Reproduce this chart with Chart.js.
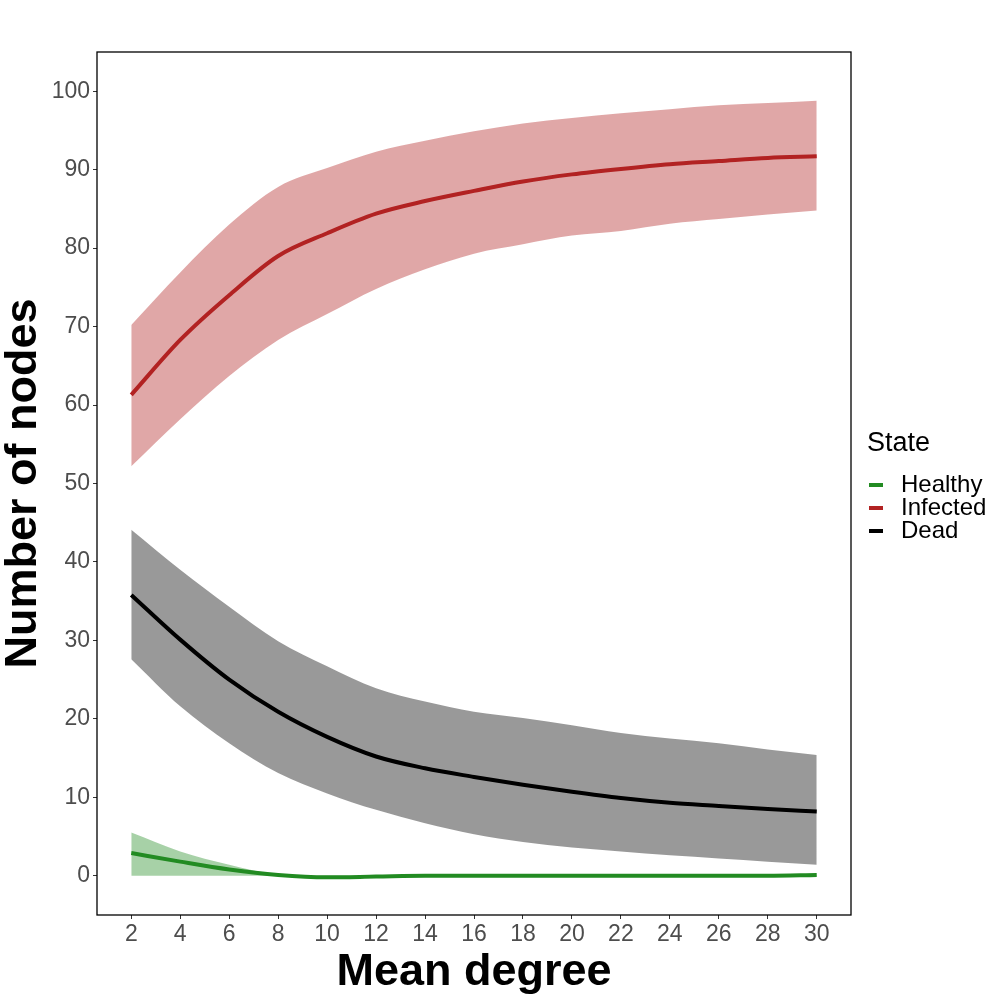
<!DOCTYPE html>
<html>
<head>
<meta charset="utf-8">
<script src="https://cdn.jsdelivr.net/npm/chart.js@4.4.1/dist/chart.umd.min.js"></script>
<style>
  html, body { margin: 0; padding: 0; background: #fff; }
  #wrap { width: 1000px; height: 1000px; }
</style>
</head>
<body>
<div id="wrap"><canvas id="nodesChart" width="1000" height="1000"></canvas></div>
<script>
  const degree = [2, 4, 6, 8, 10, 12, 14, 16, 18, 20, 22, 24, 26, 28, 30];

  const infectedMean = [61.3, 68.3, 74.0, 79.0, 81.9, 84.4, 86.0, 87.3, 88.5, 89.4, 90.1, 90.7, 91.1, 91.5, 91.7];
  const infectedUpper = [70.2, 76.9, 83.0, 87.8, 90.2, 92.3, 93.7, 94.9, 95.9, 96.6, 97.2, 97.7, 98.2, 98.5, 98.8];
  const infectedLower = [52.2, 58.2, 63.7, 68.3, 71.6, 74.8, 77.3, 79.3, 80.5, 81.6, 82.2, 83.1, 83.7, 84.3, 84.8];

  const deadMean = [35.8, 30.1, 25.0, 20.9, 17.7, 15.2, 13.7, 12.6, 11.6, 10.7, 9.9, 9.3, 8.9, 8.5, 8.2];
  const deadUpper = [44.1, 39.0, 34.3, 29.9, 26.7, 23.9, 22.2, 20.9, 20.1, 19.2, 18.2, 17.5, 16.9, 16.1, 15.4];
  const deadLower = [27.6, 21.6, 16.9, 13.1, 10.5, 8.4, 6.7, 5.3, 4.3, 3.6, 3.1, 2.6, 2.2, 1.8, 1.4];

  const healthyMean = [2.9, 1.8, 0.8, 0.1, -0.2, -0.1, 0, 0, 0, 0, 0, 0, 0, 0, 0.1];
  const healthyUpper = [5.5, 3.1, 1.4, 0.1, -0.2, -0.1, 0, 0, 0, 0, 0, 0, 0, 0, 0.1];
  const healthyLower = [0, 0, 0, 0, 0, 0, 0, 0, 0, 0, 0, 0, 0, 0, 0];

  const yTicks = [0, 10, 20, 30, 40, 50, 60, 70, 80, 90, 100];
  const xTicks = [2, 4, 6, 8, 10, 12, 14, 16, 18, 20, 22, 24, 26, 28, 30];

  const states = ['Healthy', 'Infected', 'Dead'];
  const stateColors = ['#228B22', '#B22222', '#000000'];
  const ribbonColors = ['rgba(34,139,34,0.4)', 'rgba(178,34,34,0.4)', 'rgba(0,0,0,0.4)'];

  const FONT = "'Liberation Sans', Arial, sans-serif";

  function toPoints(values) {
    return values.map((v, i) => ({ x: degree[i], y: v }));
  }

  function lineDataset(label, values, color) {
    return {
      label: label,
      data: toPoints(values),
      borderColor: color,
      borderWidth: 4,
      pointRadius: 0,
      fill: false,
      cubicInterpolationMode: 'monotone',
    };
  }

  function ribbonDatasets(label, upper, lower, color) {
    return [
      {
        label: label + ' upper',
        data: toPoints(upper),
        borderWidth: 0,
        borderColor: 'rgba(0,0,0,0)',
        backgroundColor: color,
        pointRadius: 0,
        fill: '+1',
        cubicInterpolationMode: 'monotone',
      },
      {
        label: label + ' lower',
        data: toPoints(lower),
        borderWidth: 0,
        borderColor: 'rgba(0,0,0,0)',
        pointRadius: 0,
        fill: false,
        cubicInterpolationMode: 'monotone',
      },
    ];
  }

  // index 0 is drawn last, so lines first and ribbons after
  const datasets = [
    lineDataset('Healthy', healthyMean, stateColors[0]),
    lineDataset('Infected', infectedMean, stateColors[1]),
    lineDataset('Dead', deadMean, stateColors[2]),
    ...ribbonDatasets('Healthy', healthyUpper, healthyLower, ribbonColors[0]),
    ...ribbonDatasets('Infected', infectedUpper, infectedLower, ribbonColors[1]),
    ...ribbonDatasets('Dead', deadUpper, deadLower, ribbonColors[2]),
  ];

  const panelAndLegend = {
    id: 'panelAndLegend',
    afterDraw(chart) {
      const ctx = chart.ctx;
      const a = chart.chartArea;
      ctx.save();
      ctx.strokeStyle = '#000';
      ctx.lineWidth = 1.3;
      ctx.strokeRect(a.left, a.top, a.right - a.left, a.bottom - a.top);

      ctx.fillStyle = '#000';
      ctx.textBaseline = 'middle';
      ctx.textAlign = 'left';
      ctx.font = '27px ' + FONT;
      ctx.fillText('State', 867, 444);
      ctx.font = '24px ' + FONT;
      states.forEach((s, i) => {
        const y = 485 + i * 23;
        ctx.fillStyle = stateColors[i];
        ctx.fillRect(869, y - 2, 14, 4);
        ctx.fillStyle = '#000';
        ctx.fillText(s, 901, y);
      });
      ctx.restore();
    },
  };

  const config = {
    type: 'line',
    data: { datasets },
    options: {
      responsive: false,
      animation: false,
      layout: { padding: { left: 0, right: 149, top: 52, bottom: 0 } },
      plugins: {
        legend: { display: false },
        tooltip: { enabled: false },
      },
      scales: {
        x: {
          type: 'linear',
          min: 0.6,
          max: 31.4,
          afterBuildTicks: (scale) => {
            scale.ticks = xTicks.map((v) => ({ value: v }));
          },
          afterFit: (scale) => {
            scale.height = 85;
          },
          grid: {
            drawOnChartArea: false,
            drawTicks: true,
            tickLength: 4,
            color: '#333333',
          },
          border: { display: false },
          ticks: {
            color: '#4D4D4D',
            font: { family: FONT, size: 23 },
            padding: 2,
            maxRotation: 0,
            autoSkip: false,
          },
          title: {
            display: true,
            text: 'Mean degree',
            color: '#000',
            font: { family: FONT, size: 45, weight: 'bold' },
            padding: { top: 0, bottom: 0 },
          },
        },
        y: {
          type: 'linear',
          min: -5,
          max: 105,
          afterBuildTicks: (scale) => {
            scale.ticks = yTicks.map((v) => ({ value: v }));
          },
          afterFit: (scale) => {
            scale.width = 97;
          },
          grid: {
            drawOnChartArea: false,
            drawTicks: true,
            tickLength: 4,
            color: '#333333',
          },
          border: { display: false },
          ticks: {
            color: '#4D4D4D',
            font: { family: FONT, size: 23 },
            padding: 3,
            autoSkip: false,
          },
          title: {
            display: true,
            text: 'Number of nodes',
            color: '#000',
            font: { family: FONT, size: 45, weight: 'bold' },
            padding: { top: -3, bottom: 0 },
          },
        },
      },
    },
    plugins: [panelAndLegend],
  };

  const nodesChart = new Chart(document.getElementById('nodesChart'), config);
</script>
</body>
</html>
